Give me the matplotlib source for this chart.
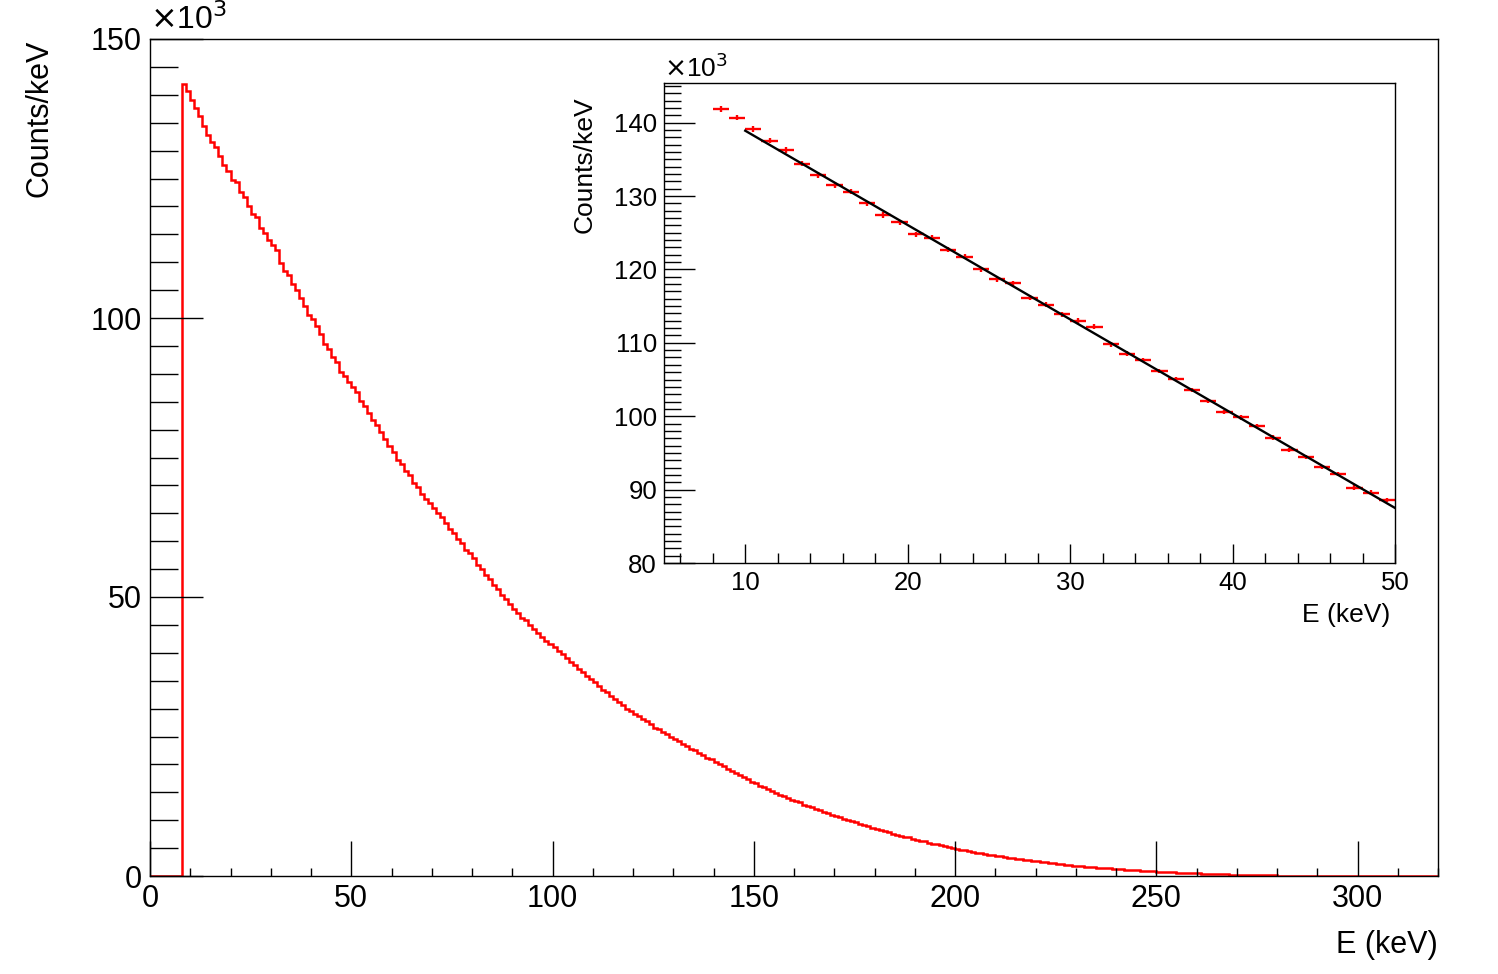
import numpy as np
import matplotlib
matplotlib.use("Agg")
import matplotlib.pyplot as plt
from matplotlib.ticker import MultipleLocator

plt.rcParams['font.family'] = ['Liberation Sans', 'DejaVu Sans']

# ---------------- data (Counts/keV in units of 10^3, 1 keV bins) ----------------
bin_edges_lo = 0
bin_edges_hi = 320

counts_0_7 = [0, 0, 0, 0, 0, 0, 0, 0]
counts_8_49 = [141.87, 140.68, 139.14, 137.55, 136.28, 134.41, 132.87, 131.51, 130.60, 129.02,
               127.43, 126.43, 124.80, 124.33, 122.66, 121.74, 120.03, 118.67, 118.12, 116.16,
               115.16, 113.89, 113.02, 112.21, 109.81, 108.49, 107.67, 106.17, 105.08, 103.58,
               102.08, 100.59, 99.86, 98.64, 97.09, 95.37, 94.41, 93.05, 92.10, 90.27,
               89.59, 88.60]
counts_50_99 = [87.6, 86.7, 85.2, 84.3, 82.9, 81.8, 80.9, 79.5, 78.4, 77.1,
                75.9, 74.6, 73.9, 72.6, 71.8, 70.5, 69.7, 68.4, 67.6, 66.9,
                66.0, 65.1, 64.3, 63.2, 62.1, 61.5, 60.4, 59.6, 58.5, 57.8,
                56.9, 55.8, 55.1, 54.0, 53.3, 52.2, 51.5, 50.4, 49.7, 48.7,
                47.9, 47.2, 46.3, 45.8, 45.0, 44.2, 43.6, 42.9, 42.1, 41.6]
counts_100_149 = [41.0, 40.3, 39.7, 39.1, 38.4, 37.9, 37.1, 36.6, 35.8, 35.3,
                  34.7, 34.0, 33.4, 32.9, 32.2, 31.8, 31.1, 30.7, 30.0, 29.6,
                  29.1, 28.7, 28.1, 27.8, 27.2, 26.6, 26.3, 25.8, 25.5, 24.9,
                  24.5, 24.2, 23.6, 23.3, 22.8, 22.5, 22.0, 21.7, 21.2, 20.9,
                  20.4, 20.1, 19.7, 19.2, 18.9, 18.5, 18.1, 17.7, 17.4, 16.9]
counts_150_199 = [16.6, 16.2, 15.9, 15.6, 15.2, 14.9, 14.6, 14.3, 14.0, 13.7,
                  13.4, 13.2, 12.8, 12.6, 12.3, 12.0, 11.8, 11.5, 11.3, 11.0,
                  10.8, 10.5, 10.3, 10.0, 9.8, 9.6, 9.3, 9.1, 8.9, 8.6,
                  8.4, 8.2, 8.0, 7.8, 7.6, 7.4, 7.2, 7.0, 6.9, 6.7,
                  6.5, 6.3, 6.2, 6.0, 5.8, 5.7, 5.5, 5.3, 5.2, 5.0]
counts_200_249 = [4.8, 4.7, 4.6, 4.4, 4.3, 4.2, 4.1, 3.9, 3.8, 3.7,
                  3.6, 3.5, 3.4, 3.3, 3.2, 3.1, 3.0, 2.9, 2.8, 2.7,
                  2.65, 2.55, 2.47, 2.38, 2.30, 2.22, 2.14, 2.06, 1.98, 1.88,
                  1.80, 1.74, 1.68, 1.62, 1.56, 1.50, 1.45, 1.40, 1.35, 1.30,
                  1.25, 1.20, 1.15, 1.10, 1.05, 1.00, 0.95, 0.90, 0.86, 0.81]
counts_250_299 = [0.77, 0.74, 0.70, 0.67, 0.63, 0.60, 0.57, 0.54, 0.51, 0.48,
                  0.45, 0.42, 0.40, 0.37, 0.35, 0.32, 0.30, 0.28, 0.26, 0.24,
                  0.22, 0.20, 0.18, 0.17, 0.15, 0.14, 0.12, 0.11, 0.10, 0.09,
                  0.08, 0.07, 0.06, 0.05, 0.05, 0.04, 0.04, 0.03, 0.03, 0.02,
                  0.02, 0.02, 0.01, 0.01, 0.01, 0.01, 0, 0, 0, 0]
counts_300_319 = [0] * 20

counts_k = (counts_0_7 + counts_8_49 + counts_50_99 + counts_100_149 +
            counts_150_199 + counts_200_249 + counts_250_299 + counts_300_319)

# inset: bins 8..49 and linear fit over 10..50 keV
inset_first_bin = 8
fit_x = [10.0, 50.0]
fit_y = [138.9, 87.5]

# ---------------- figure ----------------
W, H = 1498, 974
fig = plt.figure(figsize=(W / 100, H / 100), dpi=100)

def fx(px):
    return px / W

def fy(py):
    return 1 - py / H

# main axes
L, R, T, B = 150, 1438, 39, 876
ax = fig.add_axes([fx(L), fy(B), (R - L) / W, (B - T) / H])
edges = np.arange(bin_edges_lo, bin_edges_hi + 1, 1)
ax.stairs(counts_k, edges, color='red', linewidth=1.8, baseline=None)
ax.set_xlim(0, 320)
ax.set_ylim(0, 150)
ax.xaxis.set_major_locator(MultipleLocator(50))
ax.xaxis.set_minor_locator(MultipleLocator(10))
ax.yaxis.set_major_locator(MultipleLocator(50))
ax.yaxis.set_minor_locator(MultipleLocator(5))
ax.tick_params(axis='both', which='both', direction='in', top=False, right=False,
               labelsize=22, width=1)
ax.tick_params(axis='x', which='major', length=25, pad=6)
ax.tick_params(axis='x', which='minor', length=6)
ax.tick_params(axis='y', which='major', length=38, pad=6)
ax.tick_params(axis='y', which='minor', length=20)
for s in ax.spines.values():
    s.set_linewidth(1.0)
ax.text(0.0, 1.003, r'$\times$10$^{3}$', transform=ax.transAxes, fontsize=23,
        ha='left', va='bottom')
fig.text(fx(1438), fy(945), 'E (keV)', fontsize=22, ha='right', va='center')
fig.text(fx(40), fy(40), 'Counts/keV', fontsize=22, rotation=90, ha='center', va='top')

# inset axes
iL, iR, iT, iB = 664, 1395, 83, 563
ax2 = fig.add_axes([fx(iL), fy(iB), (iR - iL) / W, (iB - iT) / H])
ivals = np.array(counts_k[inset_first_bin:50])
icent = np.arange(inset_first_bin, 50) + 0.5
ierr = np.sqrt(ivals * 1000.0) / 1000.0
ax2.errorbar(icent, ivals, xerr=0.5, yerr=ierr, fmt='none', ecolor='red',
             elinewidth=1.7, capsize=0)
ax2.plot(fit_x, fit_y, color='black', linewidth=1.7)
ax2.set_xlim(5, 50)
ax2.set_ylim(80, 145.4)
ax2.xaxis.set_major_locator(MultipleLocator(10))
ax2.xaxis.set_minor_locator(MultipleLocator(2))
ax2.yaxis.set_major_locator(MultipleLocator(10))
ax2.yaxis.set_minor_locator(MultipleLocator(1))
ax2.tick_params(axis='both', which='both', direction='in', top=False, right=False,
                labelsize=18.5, width=1)
ax2.tick_params(axis='x', which='major', length=14, pad=6)
ax2.tick_params(axis='x', which='minor', length=7)
ax2.tick_params(axis='y', which='major', length=22, pad=5)
ax2.tick_params(axis='y', which='minor', length=12)
for s in ax2.spines.values():
    s.set_linewidth(1.0)
ax2.text(0.0, 1.003, r'$\times$10$^{3}$', transform=ax2.transAxes, fontsize=19,
         ha='left', va='bottom')
fig.text(fx(1390), fy(615), 'E (keV)', fontsize=19, ha='right', va='center')
fig.text(fx(585), fy(96), 'Counts/keV', fontsize=19, rotation=90, ha='center', va='top')

fig.savefig('out.png', dpi=100)
